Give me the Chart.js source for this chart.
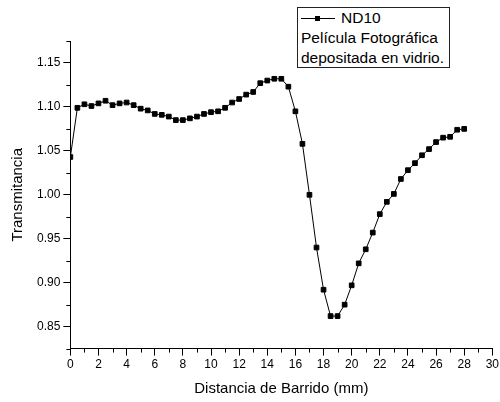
<!DOCTYPE html>
<html>
<head>
<meta charset="utf-8">
<script src="https://cdn.jsdelivr.net/npm/chart.js@4"></script>
<style>
    html, body { margin: 0; padding: 0; background: #fff; overflow: hidden; width: 500px; height: 402px; }
    #wrap { position: relative; width: 501px; height: 402px; }
    #leyenda {
        position: absolute; left: 297px; top: 7px; width: 148px; height: 59px;
        border: 1px solid #222; background: #fff;
        font-family: "Liberation Sans", Arial, sans-serif; font-size: 15.5px; line-height: 20px;
        padding: 0 0 0 3px; box-sizing: content-box; color: #000; white-space: nowrap;
    }
    .simbolo { display: inline-block; position: relative; width: 34px; height: 1px; background: #000; vertical-align: middle; margin-right: 6px; }
    .simbolo i { position: absolute; left: 14px; top: -2px; width: 5px; height: 5px; background: #000; }
</style>
</head>
<body>
<div id="wrap">
    <canvas id="chart-nd10"></canvas>
    <div id="leyenda">
        <div><span class="simbolo"><i></i></span>ND10</div>
        <div>Película Fotográfica</div>
        <div>depositada en vidrio.</div>
    </div>
</div>
<script>
// Distancia de barrido (mm) y transmitancia medida
const distancias = [
    0, 0.5, 1, 1.5, 2, 2.5, 3, 3.5, 4, 4.5, 5, 5.5, 6, 6.5, 7, 7.5, 8, 8.5, 9, 9.5,
    10, 10.5, 11, 11.5, 12, 12.5, 13, 13.5, 14, 14.5, 15, 15.5, 16, 16.5, 17, 17.5,
    18, 18.5, 19, 19.5, 20, 20.5, 21, 21.5, 22, 22.5, 23, 23.5, 24, 24.5, 25, 25.5,
    26, 26.5, 27, 27.5, 28
];
const transmitancia = [
    1.043, 1.099, 1.103, 1.101, 1.104, 1.107, 1.102, 1.104, 1.105, 1.102, 1.098, 1.096,
    1.092, 1.091, 1.089, 1.085, 1.085, 1.087, 1.089, 1.092, 1.094, 1.095, 1.099, 1.105,
    1.109, 1.114, 1.117, 1.127, 1.130, 1.132, 1.132, 1.123, 1.095, 1.058, 1.000, 0.940,
    0.892, 0.862, 0.862, 0.875, 0.897, 0.922, 0.938, 0.957, 0.978, 0.992, 1.001, 1.018,
    1.028, 1.036, 1.045, 1.052, 1.060, 1.065, 1.066, 1.074, 1.075
];

const ticksX = [0, 2, 4, 6, 8, 10, 12, 14, 16, 18, 20, 22, 24, 26, 28, 30];
const ticksY = [0.85, 0.90, 0.95, 1.00, 1.05, 1.10, 1.15];

const FUENTE = '"Liberation Sans", Arial, sans-serif';

// marcas menores a mitad de camino entre las principales
const minorTicks = {
    id: 'minorTicks',
    afterDraw(chart) {
        const { ctx, scales: { x, y } } = chart;
        ctx.save();
        ctx.strokeStyle = '#000';
        ctx.lineWidth = 1;
        ctx.beginPath();
        for (let i = 0; i < ticksX.length - 1; i++) {
            const px = Math.round(x.getPixelForValue((ticksX[i] + ticksX[i + 1]) / 2)) + 0.5;
            ctx.moveTo(px, x.top);
            ctx.lineTo(px, x.top + 4);
        }
        const menoresY = [ticksY[0] - 0.025, ...ticksY.map(v => v + 0.025)];
        menoresY.forEach(v => {
            const py = Math.round(y.getPixelForValue(v)) + 0.5;
            ctx.moveTo(y.right, py);
            ctx.lineTo(y.right - 4, py);
        });
        ctx.stroke();
        ctx.restore();
    }
};

new Chart(document.getElementById('chart-nd10'), {
    type: 'line',
    data: {
        datasets: [{
            label: 'ND10',
            data: distancias.map((d, i) => ({ x: d, y: transmitancia[i] })),
            borderColor: '#000',
            backgroundColor: '#000',
            borderWidth: 1,
            pointStyle: 'rect',
            pointRadius: 3.3,
            pointHoverRadius: 3.3,
            tension: 0,
            fill: false
        }]
    },
    options: {
        responsive: true,
        maintainAspectRatio: false,
        animation: false,
        layout: { padding: { top: 41, left: 8.5, right: 0, bottom: 4 } },
        plugins: {
            legend: { display: false },
            tooltip: { enabled: false }
        },
        scales: {
            x: {
                type: 'linear',
                min: 0,
                max: 30,
                afterBuildTicks: s => { s.ticks = ticksX.map(v => ({ value: v })); },
                grid: { drawOnChartArea: false, drawTicks: true, tickLength: 7, color: '#000' },
                border: { display: true, color: '#000', width: 1 },
                ticks: { color: '#000', font: { family: FUENTE, size: 12 }, padding: 2, maxRotation: 0 },
                title: {
                    display: true, text: 'Distancia de Barrido (mm)', color: '#000',
                    font: { family: FUENTE, size: 15 }, padding: { top: 6, bottom: 0 }
                }
            },
            y: {
                type: 'linear',
                min: 0.825,
                max: 1.175,
                afterBuildTicks: s => { s.ticks = ticksY.map(v => ({ value: v })); },
                grid: { drawOnChartArea: false, drawTicks: true, tickLength: 7, color: '#000' },
                border: { display: true, color: '#000', width: 1 },
                ticks: {
                    color: '#000', font: { family: FUENTE, size: 12 }, padding: 3,
                    callback: v => v.toFixed(2)
                },
                title: {
                    display: true, text: 'Transmitancia', color: '#000',
                    font: { family: FUENTE, size: 15 }, padding: { top: 0, bottom: 7.5 }
                }
            }
        }
    },
    plugins: [minorTicks]
});
</script>
</body>
</html>
